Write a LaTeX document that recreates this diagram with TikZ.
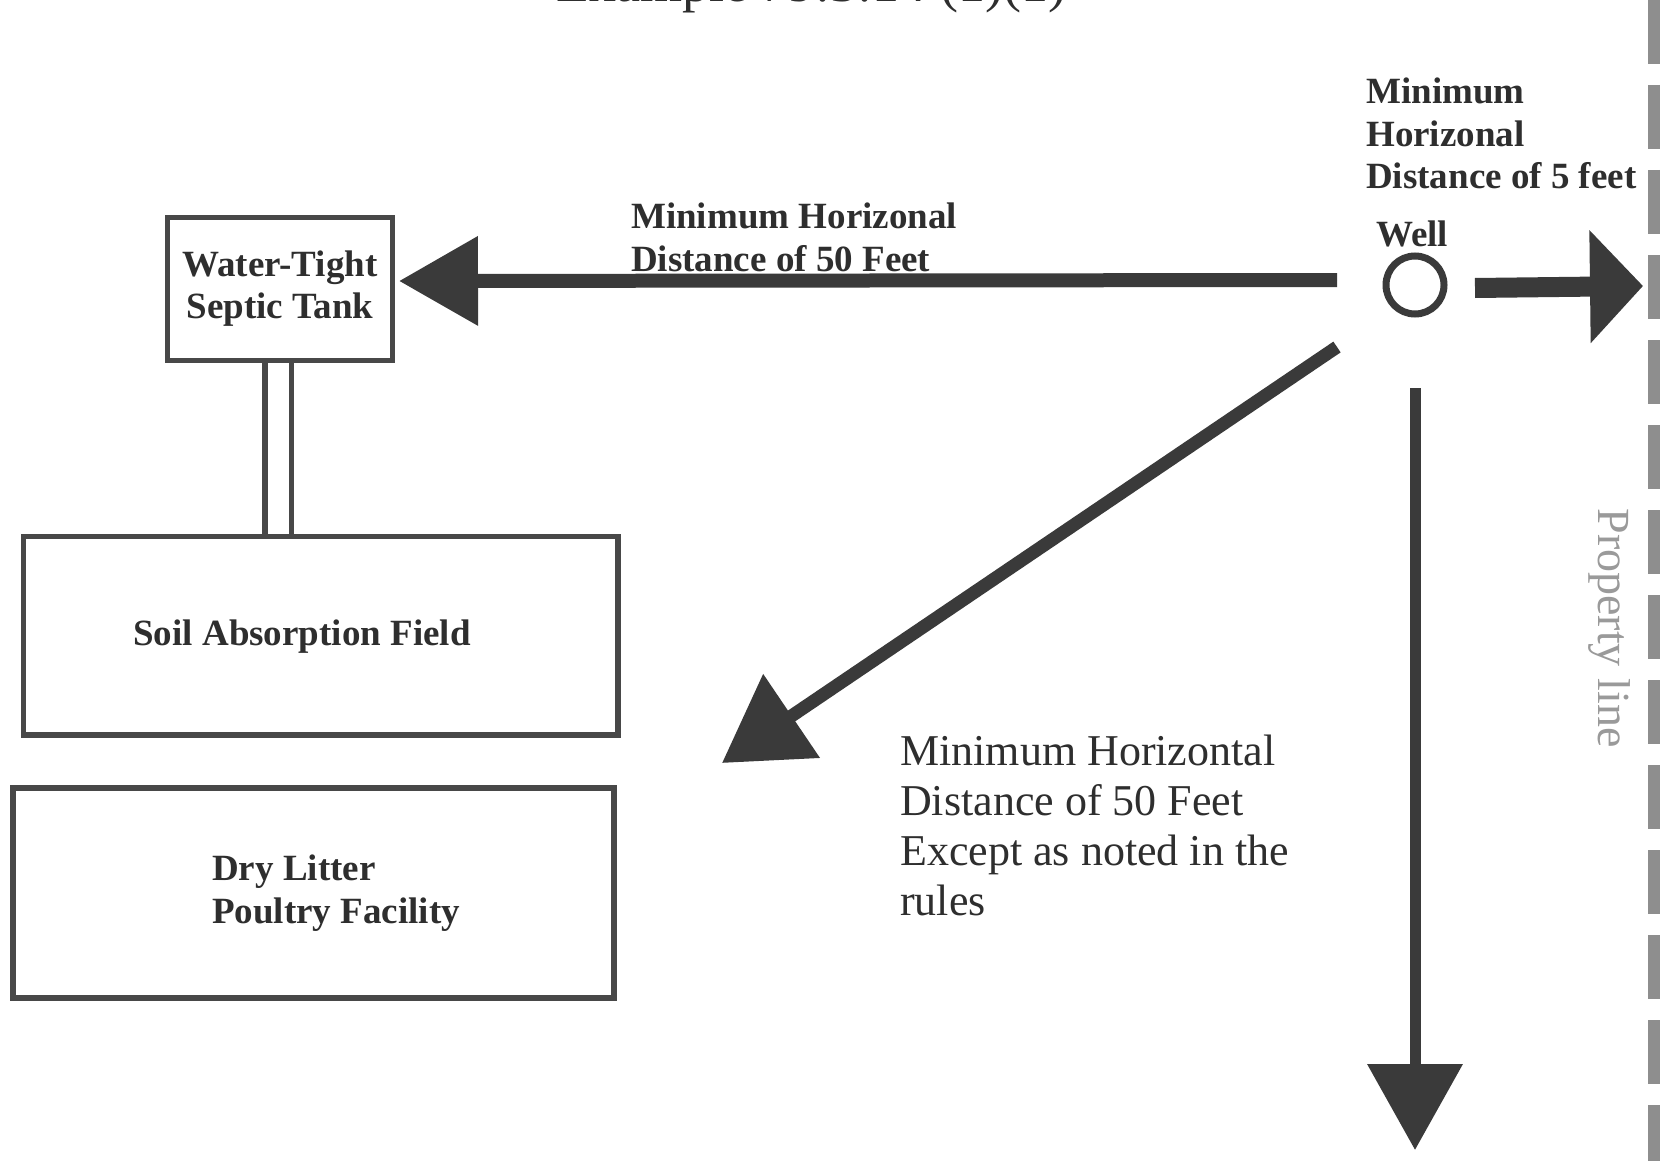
\documentclass[tikz,border=0pt]{standalone}
\usepackage{fontspec}
\setmainfont{Liberation Serif}
\usetikzlibrary{arrows.meta}
\definecolor{boxgray}{HTML}{484848}
\definecolor{arrowgray}{HTML}{3A3A3A}
\definecolor{txtgray}{HTML}{2E2E2E}
\definecolor{propgray}{HTML}{8E8E8E}
\definecolor{proptxt}{HTML}{9A9A9A}
\begin{document}
\begin{tikzpicture}[x=1pt,y=-1pt,
  boxline/.style={draw=boxgray, line width=5.5pt},
  boxnode/.style={boxline, rectangle, inner sep=0pt, outer sep=0pt},
  boldlbl/.style={font=\fontsize{37}{42.5}\selectfont\bfseries, text=txtgray, inner sep=0pt, align=left},
  plainlbl/.style={font=\fontsize{44}{50}\selectfont, text=txtgray, inner sep=0pt, align=left},
  bigarrow/.style={draw=arrowgray, fill=arrowgray},
  propline/.style={draw=propgray, line width=12pt, dash pattern=on 64pt off 21pt}
]
\useasboundingbox (0,0) rectangle (1665,1161);
\fill[white] (0,0) rectangle (1665,1161);

% clipped title at the top edge
\begin{scope}
  \clip (0,0) rectangle (1665,1161);
  \node[font=\fontsize{54}{54}\selectfont, text=txtgray, inner sep=0pt, anchor=base west] (title) at (556,2) {Example 79:3:14 (1)(1)};
\end{scope}

% boxes
\node[boxnode, minimum width=225pt, minimum height=143pt, font=\fontsize{37}{42}\selectfont\bfseries, text=txtgray, align=center] (tank) at (280,289) {Water-Tight\\Septic Tank};
\node[boxnode, minimum width=594.6pt, minimum height=198.5pt] (soil) at (320.7,635.5) {};
\node[boxnode, minimum width=601pt, minimum height=210.3pt] (dry) at (313.25,893) {};

\node[boldlbl, anchor=base] (soiltxt) at (302,645) {Soil Absorption Field};
\node[boldlbl, anchor=north west] (drytxt) at (212,855) {Dry Litter\\Poultry Facility};

% pipe between tank and absorption field
\draw[boxline] ([xshift=-15pt]tank.south) -- ([xshift=-15pt]tank.south |- soil.north);
\draw[boxline] ([xshift=11.5pt]tank.south) -- ([xshift=11.5pt]tank.south |- soil.north);

% well
\node[draw=arrowgray, circle, line width=7pt, minimum size=58pt, inner sep=0pt, outer sep=0pt] (well) at (1415,285) {};
\node[boldlbl, anchor=north west] (welltxt) at (1376,221) {Well};

% labels
\node[boldlbl, anchor=north west] (lbl50) at (631,203) {Minimum Horizonal\\Distance of 50 Feet};
\node[boldlbl, anchor=north west] (lbl5) at (1366,78) {Minimum\\Horizonal\\Distance of 5 feet};
\node[plainlbl, anchor=north west] (note) at (900,735) {Minimum Horizontal\\Distance of 50 Feet\\Except as noted in the\\rules};

% property line
\coordinate (plTop) at (1654,0);
\coordinate (plBot) at (1654,1161);
\draw[propline] (plTop) -- (plBot);
\node[rotate=-90, font=\fontsize{46}{46}\selectfont, text=proptxt, inner sep=0pt] (ptxt) at (1609,628) {Property line};

% connector end points
\coordinate (plhit) at (1643,286);
\coordinate (diagEnd) at (722,763);
\coordinate (vEnd) at (1415,1150);

% arrows
\draw[bigarrow, line width=14pt, -{Triangle[length=79pt,width=86pt]}] ([shift={(-49,-5)}]well.west) -- ([shift={(6.5,-8)}]tank.east);
\draw[bigarrow, line width=20pt, -{Triangle[length=53pt,width=110pt]}] ([shift={(31,3)}]well.east) -- (plhit);
\draw[bigarrow, line width=13pt, -{Triangle[length=84pt,width=98pt]}] ([shift={(-78,62)}]well.center) -- (diagEnd);
\draw[bigarrow, line width=11pt, -{Triangle[length=86pt,width=93pt]}] ([shift={(0,74)}]well.south) -- (vEnd);
\end{tikzpicture}
\end{document}
